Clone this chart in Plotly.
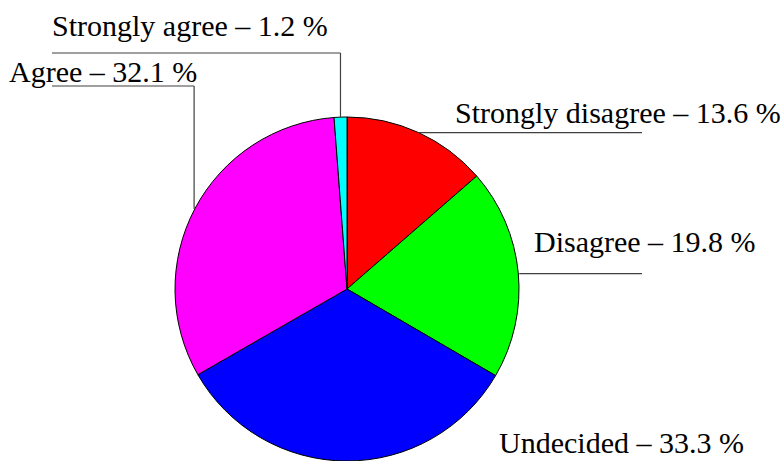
import math
import plotly.graph_objects as go

# ---- data ----
labels = ["Strongly disagree", "Disagree", "Undecided", "Agree", "Strongly agree"]
values = [13.6, 19.8, 33.3, 32.1, 1.2]
colors = ["#ff0000", "#00ff00", "#0000ff", "#ff00ff", "#00ffff"]

# ---- layout constants (pixels) ----
W, H = 783, 461
CX, CY, R = 347, 290, 173
FONT = "Liberation Serif, Times New Roman, serif"
FSIZE = 30

# label text positions (left x, vertical centre y) and leader routing
label_pos = {
    "Strongly agree": (50, 25),
    "Agree": (7, 71),
    "Strongly disagree": (453, 113),
    "Disagree": (532, 241),
    "Undecided": (497, 442),
}
# leader: ("up", y_level, x_end) = vertical to y_level then horizontal to x_end
#         ("h", x_end) = horizontal to x_end ; None = no leader
leaders = {
    "Strongly agree": ("up", 53, 52),
    "Agree": ("up", 86, 52),
    "Strongly disagree": ("h", 642),
    "Disagree": ("h", 642),
    "Undecided": None,
}


def px(x):
    return x / W


def py(y):
    return 1 - y / H


fig = go.Figure()
fig.add_trace(go.Pie(
    labels=labels,
    values=values,
    sort=False,
    direction="clockwise",
    rotation=0,
    textinfo="none",
    hoverinfo="label+percent",
    marker=dict(colors=colors, line=dict(color="#000000", width=1)),
    domain=dict(x=[px(CX - R), px(CX + R)], y=[max(0, py(CY + R)), py(CY - R)]),
    showlegend=False,
))

total = sum(values)
cum = 0.0
shapes = []
annotations = []
for lab, v in zip(labels, values):
    mid = (cum + v / 2) / total * 2 * math.pi
    cum += v
    ax = CX + R * math.sin(mid)
    ay = CY - R * math.cos(mid)
    ld = leaders[lab]
    pts = None
    if ld is not None:
        if ld[0] == "up":
            pts = [(ax, ay), (ax, ld[1]), (ld[2], ld[1])]
        else:
            pts = [(ax, ay), (ld[1], ay)]
    if pts:
        for (x0, y0), (x1, y1) in zip(pts[:-1], pts[1:]):
            shapes.append(dict(type="line", xref="paper", yref="paper",
                               x0=px(x0), y0=py(y0), x1=px(x1), y1=py(y1),
                               line=dict(color="#404040", width=1.2)))
    lx, ly = label_pos[lab]
    annotations.append(dict(
        xref="paper", yref="paper", x=px(lx), y=py(ly),
        xanchor="left", yanchor="middle", showarrow=False,
        text=f"{lab} – {v} %",
        font=dict(family=FONT, size=FSIZE, color="#000000"),
    ))

fig.update_layout(
    width=W, height=H,
    margin=dict(l=0, r=0, t=0, b=0),
    paper_bgcolor="#ffffff",
    plot_bgcolor="#ffffff",
    shapes=shapes,
    annotations=annotations,
)

fig.write_html("out.html",
               config={"displayModeBar": False},
               post_script="document.body.style.margin='0';document.body.style.overflow='hidden';")
